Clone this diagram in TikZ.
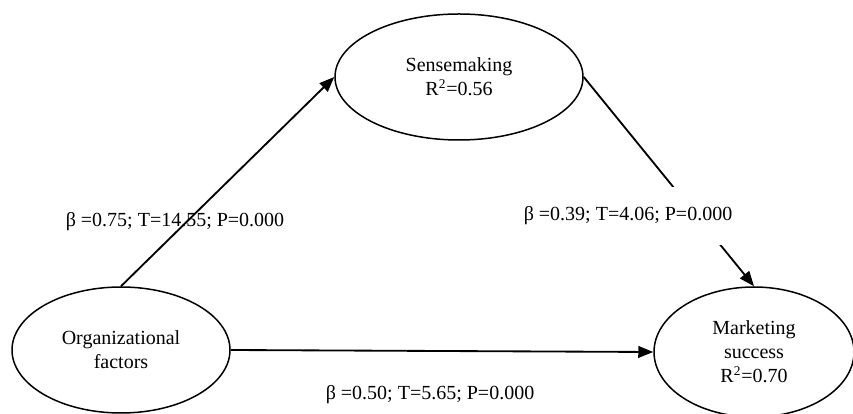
\documentclass[tikz,border=0pt]{standalone}
\usepackage{fontspec}
\setmainfont{Liberation Serif}
\usetikzlibrary{arrows.meta,shapes.geometric}

\begin{document}
\begin{tikzpicture}[x=0.6pt,y=-0.6pt,
      font=\fontsize{12}{14.4}\selectfont,
      latent/.style={draw,ellipse,line width=0.9pt,align=center,inner sep=0pt},
      path/.style={line width=1.1pt,-{Triangle[length=9pt,width=7pt]}},
      coef/.style={inner sep=0pt}]
      \clip (0,0) rectangle (853,414);
      \node[latent,minimum width=148.8pt,minimum height=75.6pt] (sense) at (459,77)
        {Sensemaking\\R\textsuperscript{2}=0.56};
      \node[latent,minimum width=130.8pt,minimum height=75.6pt] (org) at (121,350)
        {Organizational\\factors};
      \node[latent,minimum width=120pt,minimum height=78pt] (mkt) at (754,352)
        {Marketing\\success\\R\textsuperscript{2}=0.70};
      \draw[path] (org.north) -- (sense.west);
      \draw[path] (sense.east) -- (mkt.north);
      \draw[path] (org.east) -- (mkt.west);
      \node[coef] (c1) at (175,222) {β =0.75; T=14.55; P=0.000};
      \node[coef,fill=white,minimum height=35pt] (c2) at (628,216) {β =0.39; T=4.06; P=0.000};
      \node[coef] (c3) at (430,395) {β =0.50; T=5.65; P=0.000};
\end{tikzpicture}
\end{document}
